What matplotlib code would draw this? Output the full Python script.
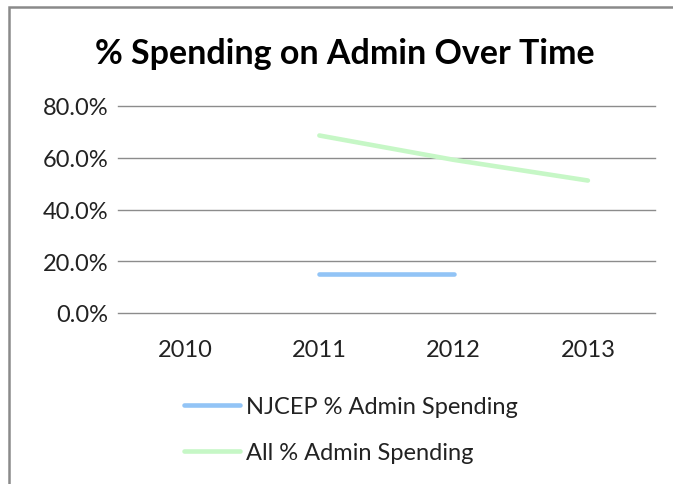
import matplotlib
matplotlib.use('Agg')
import matplotlib.pyplot as plt
from matplotlib.patches import Rectangle
from matplotlib.ticker import PercentFormatter

years = ['2010', '2011', '2012', '2013']
njcep_admin = [None, 0.151, 0.151, None]
all_admin = [None, 0.686, 0.592, 0.512]

plt.rcParams['font.family'] = ['Lato', 'DejaVu Sans']

W, H = 673, 485
fig = plt.figure(figsize=(W / 100, H / 100), dpi=100)

# outer chart border (cut off at right and bottom like the screenshot)
fig.patches.append(Rectangle((9 / W, -0.1), 1.2, (H - 8) / H + 0.1,
                             transform=fig.transFigure, fill=False,
                             edgecolor='#8a8a8a', linewidth=1.8))

ax = fig.add_axes([118 / W, (H - 314) / H, (655 - 118) / W, (314 - 107) / H])

x = list(range(len(years)))
nj = [float('nan') if v is None else v for v in njcep_admin]
al = [float('nan') if v is None else v for v in all_admin]
ax.plot(x, nj, color='#92c4f6', linewidth=3.3, solid_capstyle='round',
        label='NJCEP % Admin Spending')
ax.plot(x, al, color='#c6f7c6', linewidth=3.3, solid_capstyle='round',
        label='All % Admin Spending')

ax.set_xlim(-0.5, len(years) - 0.5)
ax.set_ylim(0, 0.8)
ax.set_yticks([0, 0.2, 0.4, 0.6, 0.8])
ax.yaxis.set_major_formatter(PercentFormatter(1.0, decimals=1))
ax.set_xticks(x)
ax.set_xticklabels(years)
ax.grid(axis='y', color='#8c8c8c', linewidth=1)
for gl in ax.get_ygridlines():
    gl.set_clip_on(False)
ax.set_axisbelow(True)
for s in ['top', 'right', 'left', 'bottom']:
    ax.spines[s].set_visible(False)
ax.tick_params(length=0, labelsize=17, colors='#222222')
ax.tick_params(axis='x', pad=19)
ax.tick_params(axis='y', pad=7)

fig.text(345 / W, (H - 54) / H, '% Spending on Admin Over Time',
         ha='center', va='center', fontsize=24.5, fontweight='bold')

fig.legend(loc='upper left', bbox_to_anchor=(163 / W, (H - 376) / H),
           frameon=False, fontsize=17, handlelength=2.35,
           handletextpad=0.25, labelspacing=1.05, labelcolor='#222222')

fig.savefig('out.png', dpi=100)
